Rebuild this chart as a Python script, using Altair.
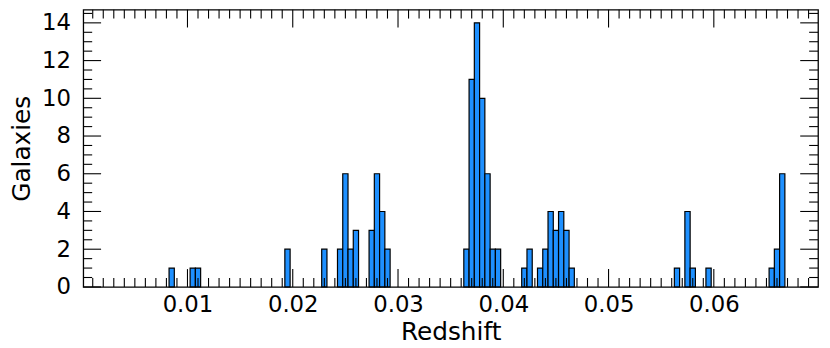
import altair as alt
import pandas as pd

# Histogram bins (left edges) and galaxy counts
bin_start = [0.00825, 0.01025, 0.01075, 0.01925,
             0.02275, 0.02425, 0.02475, 0.02525, 0.02575,
             0.02725, 0.02775, 0.02825, 0.02875,
             0.03625, 0.03675, 0.03725, 0.03775, 0.03825, 0.03875, 0.03925,
             0.04175, 0.04225, 0.04325, 0.04375, 0.04425, 0.04475, 0.04525, 0.04575, 0.04625,
             0.05625, 0.05725, 0.05775, 0.05925,
             0.06525, 0.06575, 0.06625]
counts = [1, 1, 1, 2,
          2, 2, 6, 2, 3,
          3, 6, 4, 2,
          2, 11, 14, 10, 6, 2, 2,
          1, 2, 1, 2, 4, 3, 4, 3, 1,
          1, 4, 1, 1,
          1, 2, 6]
BIN_W = 0.0005

x_major = [0.01, 0.02, 0.03, 0.04, 0.05, 0.06]
x_minor = [round(i * 0.001, 3) for i in range(1, 70) if i % 10]
y_major = [0, 2, 4, 6, 8, 10, 12, 14]
y_minor = [i * 0.5 for i in range(1, 30) if i % 4]

W, H = 742, 280
MAJ, MIN = 18, 9
FONT = "DejaVu Sans"

xs = alt.Scale(domain=[0.0001, 0.0699], nice=False, zero=False)
ys = alt.Scale(domain=[0, 14.7], nice=False, zero=False)
X_AXIS = alt.Axis(values=x_major, format=".2f", title="Redshift",
                  labelPadding=7, titlePadding=3)
Y_AXIS = alt.Axis(values=y_major, format="d", title="Galaxies",
                  labelPadding=13, titlePadding=7)

df = pd.DataFrame({"start": bin_start,
                   "end": [s + BIN_W for s in bin_start],
                   "count": counts})

bars = alt.Chart(df).mark_bar(color="#1e90ff", stroke="black", strokeWidth=1.2).encode(
    x=alt.X("start:Q", scale=xs, axis=X_AXIS),
    x2="end:Q",
    y=alt.Y("count:Q", scale=ys, axis=Y_AXIS),
    y2=alt.datum(0),
)


def xticks(vals, length):
    d = pd.DataFrame({"start": vals})
    base = alt.Chart(d).mark_rule(color="black", strokeWidth=1.1)
    bot = base.encode(x=alt.X("start:Q", scale=xs, axis=X_AXIS),
                      y=alt.value(H), y2=alt.value(H - length))
    top = base.encode(x=alt.X("start:Q", scale=xs, axis=X_AXIS),
                      y=alt.value(0), y2=alt.value(length))
    return [bot, top]


def yticks(vals, length):
    d = pd.DataFrame({"count": vals})
    base = alt.Chart(d).mark_rule(color="black", strokeWidth=1.1)
    left = base.encode(y=alt.Y("count:Q", scale=ys, axis=Y_AXIS),
                       x=alt.value(0), x2=alt.value(length))
    right = base.encode(y=alt.Y("count:Q", scale=ys, axis=Y_AXIS),
                        x=alt.value(W), x2=alt.value(W - length))
    return [left, right]


layers = [bars] + xticks(x_major, MAJ) + xticks(x_minor, MIN) + yticks(y_major, MAJ) + yticks(y_minor, MIN)

chart = alt.layer(*layers).properties(
    width=W, height=H,
    autosize=alt.AutoSizeParams(type="none"),
    padding={"left": 76, "top": 0, "right": 4, "bottom": 60},
).configure_view(
    stroke="black", strokeWidth=1.3
).configure_axis(
    grid=False, ticks=False, domain=False,
    labelFont=FONT, titleFont=FONT,
    labelFontSize=23, titleFontSize=25,
    labelColor="black", titleColor="black",
    titleFontWeight="normal",
)

chart.save("out.html", embed_options={"renderer": "svg", "actions": False})
